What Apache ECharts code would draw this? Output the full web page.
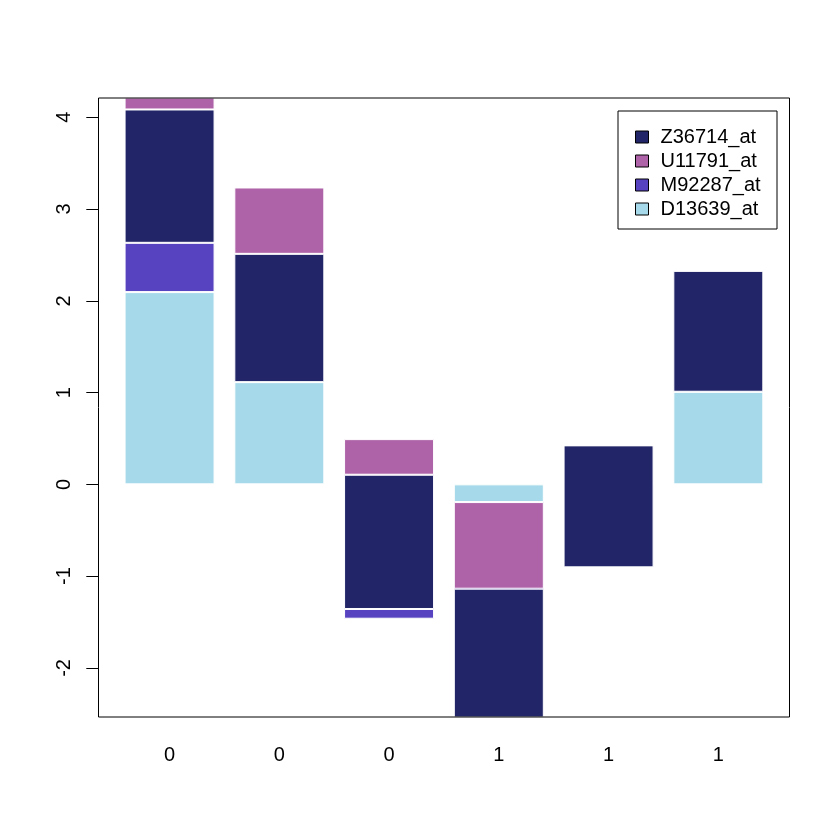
<!DOCTYPE html>
<html>
<head>
<meta charset="utf-8">
<title>barplot</title>
<script src="https://cdn.jsdelivr.net/npm/echarts@6/dist/echarts.min.js"></script>
<style>
	html, body { margin: 0; padding: 0; background: #fff; }
	#chart { width: 840px; height: 840px; }
</style>
</head>
<body>
<div id="chart"></div>
<script>
// x labels (class of each sample)
var categories = ['0', '0', '0', '1', '1', '1'];
var yTicks = [-2, -1, 0, 1, 2, 3, 4];

// stacked in this order, cumulative (R barplot style)
var D13639 = [2.095, 1.114, -1.464, -0.193, 0, 1.009];
var M92287 = [0.537, 0, 0.106, -2.900, -0.904, 0];
var Z36714 = [1.453, 1.398, 1.463, 1.956, 1.329, 1.318];
var U11791 = [0.600, 0.723, 0.388, 0.944, 0, 0];

var seriesNames = ['D13639_at', 'M92287_at', 'Z36714_at', 'U11791_at'];
var seriesData = [D13639, M92287, Z36714, U11791];
var colors = ['#a6d9ea', '#5742c0', '#222668', '#ae63a8'];
var legendOrder = ['Z36714_at', 'U11791_at', 'M92287_at', 'D13639_at'];

var font = 'Liberation Sans, Arial, Helvetica, sans-serif';

var myChart = echarts.init(document.getElementById('chart'));

var series = [];
for (var i = 0; i < seriesNames.length; i++) {
	series.push({
		name: seriesNames[i],
		type: 'bar',
		stack: 'all',
		stackStrategy: 'all',
		barWidth: 90,
		data: seriesData[i],
		itemStyle: {
			color: colors[i],
			borderColor: '#ffffff',
			borderWidth: 1
		},
		emphasis: { disabled: true },
		animation: false
	});
}

var option = {
	animation: false,
	color: colors,
	grid: {
		left: 114.7,
		top: 98,
		width: 658.5,
		height: 619
	},
	legend: {
		data: legendOrder,
		orient: 'vertical',
		left: 635,
		top: 127,
		padding: 0,
		itemWidth: 13,
		itemHeight: 12,
		itemGap: 4,
		icon: 'rect',
		selectedMode: false,
		itemStyle: {
			borderColor: '#000',
			borderWidth: 1
		},
		textStyle: {
			fontFamily: font,
			fontSize: 20,
			lineHeight: 20,
			color: '#000',
			padding: [0, 0, 0, 7]
		}
	},
	xAxis: {
		type: 'category',
		data: categories,
		axisLine: { show: false },
		axisTick: { show: false },
		axisLabel: {
			fontFamily: font,
			fontSize: 20,
			color: '#000',
			margin: 28
		}
	},
	yAxis: {
		type: 'value',
		min: -2.535,
		max: 4.21,
		offset: 16.4,
		splitLine: { show: false },
		axisLine: { show: false },
		axisTick: {
			show: true,
			length: 12,
			customValues: yTicks,
			lineStyle: { color: '#000', width: 1 }
		},
		axisLabel: {
			customValues: yTicks,
			rotate: 90,
			fontFamily: font,
			fontSize: 20,
			color: '#000',
			margin: 24
		}
	},
	graphic: [
		{	// plot frame
			type: 'rect',
			shape: { x: 98.5, y: 98, width: 691, height: 619 },
			style: { fill: null, stroke: '#000', lineWidth: 1 },
			silent: true,
			z: 100
		},
		{	// legend box
			type: 'rect',
			shape: { x: 618, y: 111, width: 159, height: 118 },
			style: { fill: null, stroke: '#000', lineWidth: 1 },
			silent: true,
			z: 100
		}
	],
	series: series
};
myChart.setOption(option);
</script>
</body>
</html>
